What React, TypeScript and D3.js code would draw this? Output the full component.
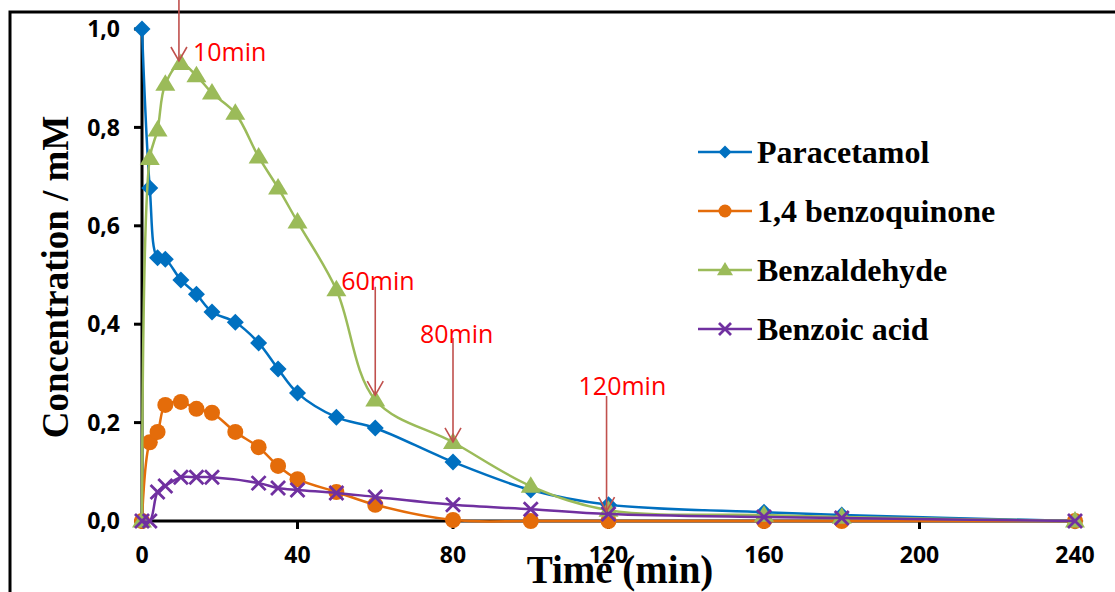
import React from "react";
import * as d3 from "d3";

// sampling times (min)
const times = [0, 2, 4, 6, 10, 14, 18, 24, 30, 35, 40, 50, 60, 80, 100, 120, 160, 180, 240];

const paracetamol = [1.0, 0.677, 0.535, 0.532, 0.49, 0.461, 0.425, 0.404, 0.362, 0.309, 0.26, 0.211, 0.189, 0.12, 0.063, 0.033, 0.018, 0.012, 0.0];
const benzoquinone = [0, 0.16, 0.181, 0.236, 0.242, 0.228, 0.22, 0.181, 0.15, 0.112, 0.085, 0.059, 0.033, 0.002, 0, 0, 0, 0, 0];
const benzaldehyde = [0, 0.737, 0.795, 0.888, 0.93, 0.905, 0.87, 0.829, 0.74, 0.677, 0.608, 0.47, 0.246, 0.16, 0.071, 0.022, 0.012, 0.008, 0];
// benzoic acid has no 24 min sample
const benzoicAcid = [0, 0, 0.059, 0.071, 0.089, 0.089, 0.089, null, 0.077, 0.067, 0.063, 0.057, 0.049, 0.033, 0.024, 0.014, 0.008, 0.006, 0];

const seriesNames = ["Paracetamol", "1,4 benzoquinone", "Benzaldehyde", "Benzoic acid"];
const seriesValues = [paracetamol, benzoquinone, benzaldehyde, benzoicAcid];
const seriesColors = ["#0070c0", "#e46c0a", "#9bbb59", "#7030a0"];
const seriesMarkers = ["diamond", "circle", "triangle", "cross"];

const xTicks = [0, 40, 80, 120, 160, 200, 240];
const yTicks = [0, 0.2, 0.4, 0.6, 0.8, 1.0];

// arrows: time, top and tip concentration, label
const arrowTimes = [9.5, 60, 80, 119.5];
const arrowTops = [1.07, 0.476, 0.372, 0.254];
const arrowTips = [0.935, 0.256, 0.161, 0.02];
const arrowLabels = ["10min", "60min", "80min", "120min"];

const W = 1115;
const H = 592;

const markerSize: Record<string, number> = { diamond: 8.5, circle: 8, triangle: 10, cross: 7 };
const legendSize: Record<string, number> = { diamond: 6.5, circle: 6.5, triangle: 8, cross: 6 };

function marker(kind: string, x: number, y: number, s: number, color: string, key: any) {
  if (kind === "diamond") {
    return <path key={key} d={`M${x},${y - s}L${x + s},${y}L${x},${y + s}L${x - s},${y}Z`} fill={color} />;
  }
  if (kind === "circle") {
    return <circle key={key} cx={x} cy={y} r={s} fill={color} />;
  }
  if (kind === "triangle") {
    const h = s * 1.65;
    return <path key={key} d={`M${x},${y - h * 0.6}L${x + s},${y + h * 0.4}L${x - s},${y + h * 0.4}Z`} fill={color} />;
  }
  return (
    <path key={key} d={`M${x - s},${y - s}L${x + s},${y + s}M${x + s},${y - s}L${x - s},${y + s}`}
      stroke={color} strokeWidth={2.8} fill="none" />
  );
}

export default function App() {
  const x = d3.scaleLinear().domain([0, 240]).range([142, 1075]);
  const y = d3.scaleLinear().domain([0, 1]).range([521, 29]);

  const line = d3
    .line<[number, number]>()
    .x(d => x(d[0]))
    .y(d => y(d[1]))
    .curve(d3.curveCatmullRom.alpha(0.5));

  const tickFont = "'Open Sans', sans-serif";
  const serif = "'Liberation Serif', 'Times New Roman', serif";

  const labelOffsets = [
    [14, 0],
    [-34, 3],
    [-33, 5],
    [-28, -1],
  ];

  return (
    <svg width={W} height={H} style={{ position: "absolute", left: 0, top: 0, background: "#fff" }}>
      {/* outer frame */}
      <path d={`M10,${H + 5}V12H${W + 5}`} fill="none" stroke="#000" strokeWidth={3} />

      {/* axes */}
      <line x1={x(0)} x2={x(0)} y1={y(1)} y2={y(0)} stroke="#000" strokeWidth={3} />
      <line x1={x(0)} x2={x(240)} y1={y(0)} y2={y(0)} stroke="#000" strokeWidth={3} />
      {yTicks.map(t => (
        <g key={"y" + t}>
          <line x1={x(0) - 8} x2={x(0)} y1={y(t)} y2={y(t)} stroke="#000" strokeWidth={3} />
          <text x={120} y={y(t)} dy="0.36em" textAnchor="end" fontFamily={tickFont} fontWeight="bold" fontSize={23}>
            {t.toFixed(1).replace(".", ",")}
          </text>
        </g>
      ))}
      {xTicks.map(t => (
        <g key={"x" + t}>
          <line x1={x(t)} x2={x(t)} y1={y(0)} y2={y(0) + 8} stroke="#000" strokeWidth={3} />
          <text x={x(t)} y={563} textAnchor="middle" fontFamily={tickFont} fontWeight="bold" fontSize={23}>
            {t}
          </text>
        </g>
      ))}

      {/* series */}
      {seriesValues.map((vals, i) => {
        const pts = times
          .map((t, j) => [t, vals[j]] as [number, number | null])
          .filter(p => p[1] !== null) as [number, number][];
        const kind = seriesMarkers[i];
        return (
          <g key={seriesNames[i]}>
            <path d={line(pts) || ""} fill="none" stroke={seriesColors[i]} strokeWidth={2.5} />
            {pts.map((p, j) => marker(kind, x(p[0]), y(p[1]), markerSize[kind], seriesColors[i], j))}
          </g>
        );
      })}

      {/* arrows */}
      {arrowTimes.map((t, i) => {
        const ax = x(t);
        const top = y(arrowTops[i]);
        const tip = y(arrowTips[i]);
        return (
          <g key={"a" + i}>
            <line x1={ax} x2={ax} y1={top} y2={tip} stroke="#c0504d" strokeWidth={1.6} />
            <path d={`M${ax - 8},${tip - 14}L${ax},${tip}L${ax + 8},${tip - 14}`} fill="none" stroke="#c0504d" strokeWidth={1.6} />
            <text
              x={ax + labelOffsets[i][0]}
              y={(i === 0 ? tip : top) + labelOffsets[i][1]}
              fill="#ff0000"
              fontFamily={tickFont}
              fontSize={25}
            >
              {arrowLabels[i]}
            </text>
          </g>
        );
      })}

      {/* legend */}
      {seriesNames.map((name, i) => {
        const ly = 152 + i * 59;
        const kind = seriesMarkers[i];
        return (
          <g key={"l" + i}>
            <line x1={698} x2={752} y1={ly} y2={ly} stroke={seriesColors[i]} strokeWidth={2.5} />
            {marker(kind, 725, ly, legendSize[kind], seriesColors[i], "m")}
            <text x={757} y={ly + 11} fontFamily={serif} fontWeight="bold" fontSize={32}>
              {name}
            </text>
          </g>
        );
      })}

      {/* titles */}
      <text x={620} y={583} textAnchor="middle" fontFamily={serif} fontWeight="bold" fontSize={39}>
        Time (min)
      </text>
      <text
        transform={`translate(68,${277}) rotate(-90)`}
        textAnchor="middle"
        fontFamily={serif}
        fontWeight="bold"
        fontSize={37}
      >
        Concentration / mM
      </text>
    </svg>
  );
}
